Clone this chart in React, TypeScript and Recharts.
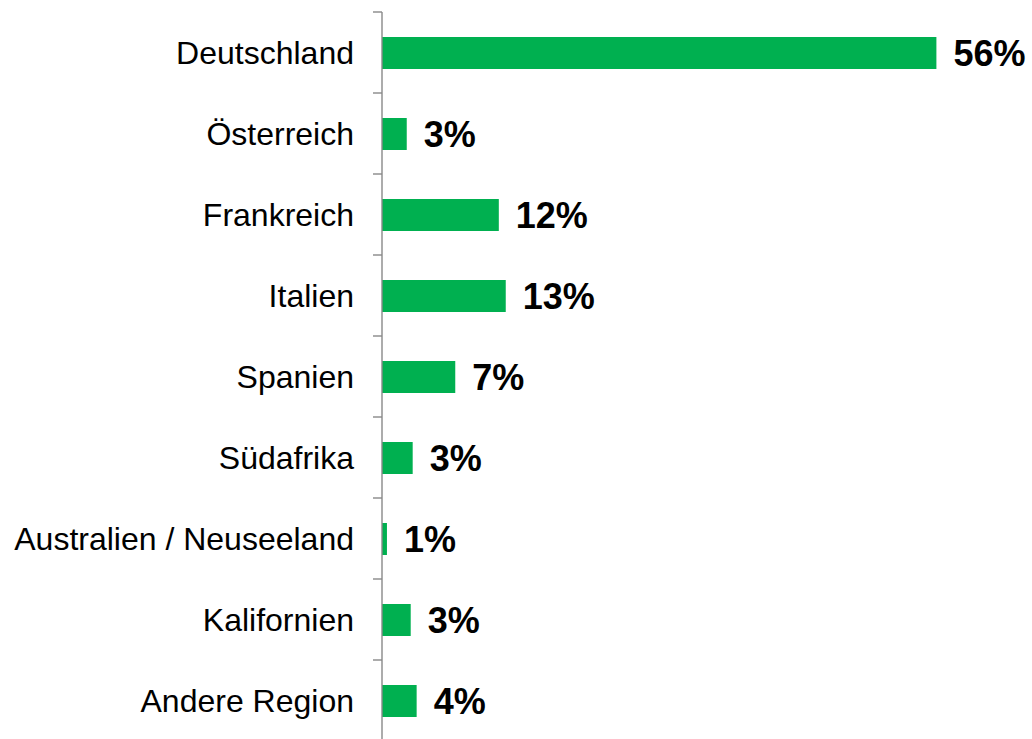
import React from "react";
import { BarChart, Bar, XAxis, YAxis, LabelList } from "recharts";

const categories = [
  "Deutschland",
  "Österreich",
  "Frankreich",
  "Italien",
  "Spanien",
  "Südafrika",
  "Australien / Neuseeland",
  "Kalifornien",
  "Andere Region",
];
const values = [56, 2.5, 11.8, 12.5, 7.4, 3.1, 0.5, 2.9, 3.5];
const valueLabels = ["56%", "3%", "12%", "13%", "7%", "3%", "1%", "3%", "4%"];

const data = categories.map((name, i) => ({ name, value: values[i], label: valueLabels[i] }));

const AXIS_X = 382;
const BAND = 81;
const AXIS_COLOR = "#898989";

const CategoryTick = (props: any) => {
  const { y, payload, index } = props;
  const top = y - BAND / 2;
  const isLast = index === categories.length - 1;
  return (
    <g>
      <line x1={AXIS_X - 9} x2={AXIS_X} y1={top} y2={top} stroke={AXIS_COLOR} strokeWidth={1.4} />
      {isLast && (
        <line x1={AXIS_X - 9} x2={AXIS_X} y1={y + BAND / 2} y2={y + BAND / 2} stroke={AXIS_COLOR} strokeWidth={1.4} />
      )}
      <text
        x={AXIS_X - 28}
        y={y}
        dy="0.36em"
        textAnchor="end"
        fill="#000"
        fontSize={32}
        fontFamily="'Liberation Sans', Arial, sans-serif"
      >
        {payload.value}
      </text>
    </g>
  );
};

export default function App() {
  return (
    <div
      style={{
        position: "absolute",
        left: 0,
        top: 0,
        width: 1032,
        height: 739,
        overflow: "hidden",
        background: "#fff",
      }}
    >
      <BarChart
        width={1032}
        height={741}
        data={data}
        layout="vertical"
        margin={{ top: 12, right: 56, bottom: 0, left: 0 }}
        barSize={32}
      >
        <XAxis type="number" domain={[0, 60]} hide />
        <YAxis
          type="category"
          dataKey="name"
          width={382}
          axisLine={{ stroke: AXIS_COLOR, strokeWidth: 1.4 }}
          tickLine={false}
          tick={<CategoryTick />}
          interval={0}
        />
        <Bar dataKey="value" fill="#00B050" isAnimationActive={false}>
          <LabelList
            dataKey="label"
            position="right"
            offset={17}
            fill="#000"
            style={{
              fontSize: 36,
              fontWeight: "bold",
              fontFamily: "'Liberation Sans', Arial, sans-serif",
              fill: "#000",
            }}
          />
        </Bar>
      </BarChart>
    </div>
  );
}
